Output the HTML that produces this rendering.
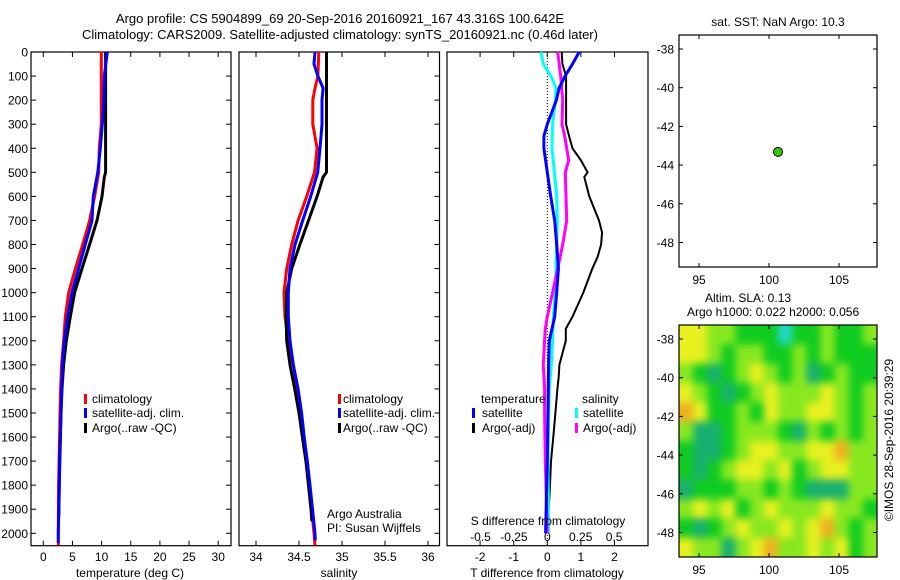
<!DOCTYPE html>
<html><head><meta charset="utf-8"><style>
html,body{margin:0;padding:0;background:#fff;}
svg{display:block;font-family:"Liberation Sans",sans-serif;}
text{fill:#000;}
</style></head><body>
<svg id="fig" width="900" height="580" xmlns="http://www.w3.org/2000/svg">
<rect x="0" y="0" width="900" height="580" fill="#fff"/>
<text x="340" y="23" font-size="13" text-anchor="middle">Argo profile: CS 5904899_69 20-Sep-2016 20160921_167 43.316S 100.642E</text>
<text x="340" y="39" font-size="13" text-anchor="middle">Climatology: CARS2009. Satellite-adjusted climatology: synTS_20160921.nc (0.46d later)</text>
<g id="layer"></g>
</svg>
<script>
// ---- data ----
const tDepth   = [0,100,200,300,400,500,600,700,800,900,1000,1100,1200,1300,1400,1500,1600,1800,2000,2050];
const tClim    = [9.95,9.95,9.95,9.95,9.6,9.5,8.8,7.95,6.75,5.5,4.35,3.77,3.48,3.14,2.97,2.86,2.8,2.62,2.57,2.57];
const tSatDepth= [0,100,200,300,400,500,600,700,800,900,1000,1100,1200,1300,1500,1800,2000,2040];
const tSat     = [10.98,10.46,10.38,10.12,9.78,9.35,8.58,8.35,7.2,6.05,4.92,4.17,3.6,3.3,3.04,2.74,2.57,2.57];
const tArgoDepth=[0,500,520,600,700,800,900,1000,1100,1200,1300,1400,1500,1700,1930];
const tArgo    = [10.69,10.69,10.46,10.07,9.21,7.94,6.64,5.37,4.63,3.95,3.48,3.2,3.04,2.8,2.66];

const sClimDepth=[0,100,150,200,300,400,500,600,700,800,900,1000,1100,1200,1300,1400,1500,1600,1700,1800,2000,2050];
const sClim    = [34.73,34.72,34.686,34.66,34.66,34.71,34.68,34.59,34.49,34.415,34.357,34.326,34.337,34.376,34.434,34.48,34.52,34.55,34.59,34.62,34.674,34.686];
const sSatDepth= [0,50,100,150,200,300,400,500,600,700,800,900,1000,1100,1200,1300,1400,1500,1600,1700,1800,2000,2030];
const sSat     = [34.686,34.674,34.72,34.78,34.767,34.767,34.744,34.717,34.636,34.543,34.453,34.395,34.376,34.376,34.395,34.434,34.49,34.53,34.56,34.597,34.628,34.686,34.69];
const sArgoDepth=[0,500,520,600,700,800,900,1000,1100,1200,1300,1400,1500,1600,1700,1800,1900,1950];
const sArgo    = [34.82,34.82,34.78,34.71,34.61,34.51,34.415,34.357,34.35,34.357,34.395,34.45,34.50,34.54,34.58,34.61,34.64,34.65];

const dTsatDepth=[0,50,100,150,200,300,350,400,500,600,700,800,900,1000,1100,1200,1300,1500,1700,2000];
const dTsat    = [0.95,0.75,0.53,0.35,0.27,0,-0.1,-0.1,0.0,0.1,0.22,0.28,0.33,0.28,0.22,0.06,0.04,0.02,0.0,-0.05];
const dTargoDepth=[0,50,100,200,300,350,400,450,500,520,600,700,750,800,850,900,1000,1100,1150,1200,1300,1350,1400,1500,1600,1700,1800,2000];
const dTargo   = [0.43,0.45,0.56,0.56,0.56,0.65,0.75,1.0,1.2,1.1,1.25,1.54,1.63,1.6,1.5,1.34,1.07,0.75,0.55,0.55,0.36,0.34,0.3,0.24,0.18,0.11,0.08,0.0];
const dSsatDepth=[0,50,100,150,200,300,400,500,600,700,800,900,1000,1100,1200,1300,1400,1500,1700,2000];
const dSsat    = [-0.047,-0.03,0.028,0.065,0.06,0.04,0.035,0.053,0.07,0.075,0.07,0.065,0.06,0.045,0.04,0.03,0.015,0.01,0.005,0.01];
const dSargoDepth=[0,100,200,300,350,400,450,500,600,700,800,900,1000,1100,1150,1200,1300,1400,1500,1700,2000];
const dSargo   = [0.078,0.1,0.115,0.11,0.13,0.145,0.16,0.135,0.14,0.145,0.115,0.078,0.04,0.0,-0.015,-0.02,-0.03,-0.02,-0.02,-0.015,0.0];

const depthTicks=[0,100,200,300,400,500,600,700,800,900,1000,1100,1200,1300,1400,1500,1600,1700,1800,1900,2000];
const tempTicks=[0,5,10,15,20,25,30];
const salTicks=[34,34.5,35,35.5,36];
const salTickLabels=["34","34.5","35","35.5","36"];
const tdTicks=[-2,-1,0,1,2];
const sdTicks=[-0.5,-0.25,0,0.25,0.5];
const sdTickLabels=["-0.5","-0.25","0","0.25","0.5"];

const latTicks=[-38,-40,-42,-44,-46,-48];
const lonTicks=[95,100,105];
const argoLon=[100.642];
const argoLat=[-43.316];
// SLA map: 12 rows (lat -37.3 .. -49.3) x 14 cols (lon 93.6 .. 107.6), class 0=cyan .. 5=orange
const slaGrid=[
[4,4,3,3,2,2,2,0,2,2,3,2,2,3],
[4,4,3,2,3,3,2,2,3,2,3,2,2,2],
[3,2,1,2,3,4,3,2,3,1,2,3,2,2],
[4,3,2,1,2,3,4,3,3,3,4,3,2,3],
[5,4,2,2,3,2,4,3,3,4,4,3,2,3],
[3,1,1,2,3,3,3,2,1,3,2,3,2,3],
[2,1,1,2,3,4,4,3,3,4,4,5,3,3],
[2,1,2,3,4,4,3,4,2,3,4,4,3,3],
[1,2,2,2,3,3,2,3,2,1,1,1,3,3],
[3,4,3,4,2,3,4,3,3,3,4,3,3,2],
[2,1,2,3,4,3,3,4,3,4,5,3,2,3],
[4,3,3,1,3,4,5,3,3,4,3,4,2,3]];
const slaColors=["#22d8c8","#18b070","#10cc20","#88e820","#e8f020","#f0b020"];

// ---- helpers ----
const NS="http://www.w3.org/2000/svg";
const layer=document.getElementById('layer');
function el(tag,attrs,parent,txt){const e=document.createElementNS(NS,tag);for(const k in attrs)e.setAttribute(k,attrs[k]);if(txt!==undefined)e.textContent=txt;(parent||layer).appendChild(e);return e;}
const Y0=52, YS=(533.3-52)/2000, YB=545.7;
const yD=d=>Y0+d*YS;
const xT=t=>43.3+t*5.83;
const xS=s=>256+(s-34)*86;
const xTd=v=>547.3+v*33.6;
const xSd=v=>547.3+v*133.6;
const P=[{l:31,r:231},{l:239,r:439.5},{l:447,r:648}];

function line(xs,ds,fx,color,w,name){
  const pts=xs.map((v,i)=>fx(v).toFixed(1)+','+yD(ds[i]).toFixed(1)).join(' ');
  const p=el('polyline',{points:pts,fill:'none',stroke:color,'stroke-width':w,'stroke-linejoin':'miter'});
  
  
}
function frame(pn,name){
  const r=el('rect',{x:pn.l,y:Y0,width:pn.r-pn.l,height:YB-Y0,fill:'none',stroke:'#000','stroke-width':1.2});
  
  
}
function xticks(pn,vals,labels,fx,name){
  vals.forEach((v,i)=>{
    const x=fx(v);
    el('line',{x1:x,y1:YB,x2:x,y2:YB-5,stroke:'#000'});
    el('line',{x1:x,y1:Y0,x2:x,y2:Y0+5,stroke:'#000'});
    const t=el('text',{x:x,y:561,'font-size':12,'text-anchor':'middle'},layer,labels[i]);
    
    
  });
}

// panel 1
frame(P[0],'temperature-panel-frame');
depthTicks.forEach(d=>{
  const y=yD(d);
  el('line',{x1:P[0].l,y1:y,x2:P[0].l+5,y2:y,stroke:'#000'});
  el('line',{x1:P[0].r,y1:y,x2:P[0].r-5,y2:y,stroke:'#000'});
  const t=el('text',{x:28,y:y+4.5,'font-size':12,'text-anchor':'end'},layer,String(d));
  
  
});
xticks(P[0],tempTicks,tempTicks.map(String),xT,'temperature-tick-label');
line(tClim,tDepth,xT,'#ff0000',3,'temperature-climatology-line');
line(tArgo,tArgoDepth,xT,'#000000',3,'temperature-argo-line');
line(tSat,tSatDepth,xT,'#0000ff',3,'temperature-satellite-line');

// panel 2
frame(P[1],'salinity-panel-frame');
depthTicks.forEach(d=>{const y=yD(d);el('line',{x1:P[1].r,y1:y,x2:P[1].r-5,y2:y,stroke:'#000'});});
xticks(P[1],salTicks,salTickLabels,xS,'salinity-tick-label');
line(sClim,sClimDepth,xS,'#ff0000',3,'salinity-climatology-line');
line(sArgo,sArgoDepth,xS,'#000000',3,'salinity-argo-line');
line(sSat,sSatDepth,xS,'#0000ff',3,'salinity-satellite-line');

// panel 3
frame(P[2],'difference-panel-frame');
xticks(P[2],tdTicks,tdTicks.map(String),xTd,'t-difference-tick-label');
sdTicks.forEach((v,i)=>{
  const t=el('text',{x:xSd(v),y:541,'font-size':12,'text-anchor':'middle'},layer,sdTickLabels[i]);
  
  
});
el('line',{x1:xTd(0),y1:Y0,x2:xTd(0),y2:YB,stroke:'#000','stroke-width':1,'stroke-dasharray':'1,2'});
line(dTargo,dTargoDepth,xTd,'#000000',2,'t-difference-argo-line');
line(dSsat,dSsatDepth,xSd,'#00ffff',3,'s-difference-satellite-line');
line(dSargo,dSargoDepth,xSd,'#ff00ff',3,'s-difference-argo-line');
line(dTsat,dTsatDepth,xTd,'#0000ff',3,'t-difference-satellite-line');

// maps
const M={l:679,r:877};
const xL=lon=>679+(lon-93.57)*14;
const yLtop=lat=>49+(-38-lat)*19.35;
const yLbot=lat=>339+(-38-lat)*19.35;
function mapAxes(top,bot,yfn,name){
  latTicks.forEach(l=>{
    const y=yfn(l);
    el('line',{x1:M.l,y1:y,x2:M.l+4,y2:y,stroke:'#000'});
    el('line',{x1:M.r,y1:y,x2:M.r-4,y2:y,stroke:'#000'});
    const t=el('text',{x:674,y:y+4.5,'font-size':12,'text-anchor':'end'},layer,String(l));
    
    
  });
  lonTicks.forEach(l=>{
    const x=xL(l);
    el('line',{x1:x,y1:bot,x2:x,y2:bot-4,stroke:'#000'});
    el('line',{x1:x,y1:top,x2:x,y2:top+4,stroke:'#000'});
    const t=el('text',{x:x,y:bot+17,'font-size':12,'text-anchor':'middle'},layer,String(l));
    
    
  });
  const r=el('rect',{x:M.l,y:top,width:M.r-M.l,height:bot-top,fill:'none',stroke:'#000','stroke-width':1.2});
  
  
}
// SLA heatmap
const defs=el('defs',{});
const cp=el('clipPath',{id:'mclip'},defs);el('rect',{x:M.l,y:325,width:M.r-M.l,height:232},cp);
const hg=el('g',{'clip-path':'url(#mclip)'});


const hb=el('g',{style:'filter:blur(4px)'},hg);
const cw=(M.r-M.l)/14, ch=232/12;
slaGrid.forEach((row,ri)=>row.forEach((v,ci)=>{
  const c=el('rect',{x:M.l+ci*cw-(ci===0?10:0),y:325+ri*ch-(ri===0?10:0),width:cw+1+(ci===0||ci===13?10:0),height:ch+1+(ri===0||ri===11?10:0),fill:slaColors[v]},hb);
  
  
}));
mapAxes(35,267,yLtop,'sst-map-frame');
mapAxes(325,557,yLbot,'sla-map-frame');
argoLon.forEach((lo,i)=>{
  const c=el('circle',{cx:xL(lo),cy:yLtop(argoLat[i]),r:4.5,fill:'#33cc00',stroke:'#000','stroke-width':1});
  
  
});
</script>
<svg width="900" height="580" style="position:absolute;left:0;top:0;pointer-events:none;font-family:'Liberation Sans',sans-serif" xmlns="http://www.w3.org/2000/svg">
<text x="130" y="577" font-size="12" text-anchor="middle">temperature (deg C)</text>
<text x="339" y="577" font-size="12" text-anchor="middle">salinity</text>
<text x="547" y="577" font-size="12" text-anchor="middle">T difference from climatology</text>
<text x="548" y="525" font-size="12" text-anchor="middle">S difference from climatology</text>
<text x="327" y="518" font-size="12">Argo Australia</text>
<text x="327" y="532" font-size="12">PI: Susan Wijffels</text>
<g font-size="12">
<rect x="84" y="394" width="3" height="10" fill="#f00"/><text x="92" y="403">climatology</text>
<rect x="84" y="408" width="3" height="10" fill="#00f"/><text x="92" y="417">satellite-adj. clim.</text>
<rect x="84" y="423" width="3" height="10" fill="#000"/><text x="92" y="432">Argo(..raw -QC)</text>
</g>
<g font-size="12">
<rect x="338" y="394" width="3" height="10" fill="#f00"/><text x="343" y="403">climatology</text>
<rect x="338" y="408" width="3" height="10" fill="#00f"/><text x="343" y="417">satellite-adj. clim.</text>
<rect x="338" y="423" width="3" height="10" fill="#000"/><text x="343" y="432">Argo(..raw -QC)</text>
</g>
<g font-size="12">
<text x="481" y="403">temperature</text>
<rect x="472" y="408" width="3" height="10" fill="#00f"/><text x="482" y="417">satellite</text>
<rect x="472" y="423" width="3" height="10" fill="#000"/><text x="482" y="432">Argo(-adj)</text>
<text x="582" y="403">salinity</text>
<rect x="575" y="408" width="3" height="10" fill="#0ff"/><text x="583" y="417">satellite</text>
<rect x="575" y="423" width="3" height="10" fill="#f0f"/><text x="583" y="432">Argo(-adj)</text>
</g>
<text x="778" y="26" font-size="12" text-anchor="middle">sat. SST: NaN Argo: 10.3</text>
<text x="705" y="302" font-size="12">Altim. SLA: 0.13</text>
<text x="687" y="316" font-size="12">Argo h1000: 0.022 h2000: 0.056</text>
<text transform="translate(893,440) rotate(-90)" font-size="12" text-anchor="middle">©IMOS 28-Sep-2016 20:39:29</text>
</svg>
</body></html>
